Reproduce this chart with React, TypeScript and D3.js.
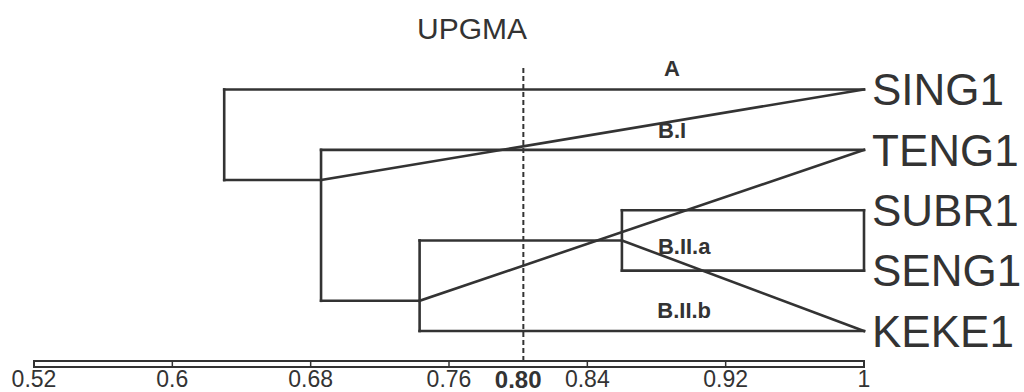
import React from "react";
import { scaleLinear, line } from "d3";

// leaves top to bottom
const leaves = ["SING1", "TENG1", "SUBR1", "SENG1", "KEKE1"];

// internal nodes (similarity, upper and lower branch in leaf-position units)
const nodeNames = ["root", "B", "B.II", "B.II.a"];
const nodeSim = [0.63, 0.686, 0.743, 0.86];
const nodeTop = [0, 1, 2.5, 2];
const nodeBottom = [1.5, 3.5, 4, 3];
const topChild = ["SING1", "TENG1", "B.II.a", "SUBR1"];
const bottomChild = ["B", "B.II", "KEKE1", "SENG1"];
const closedNodes = ["B.II.a"];

// odd diagonal links from a node's attach point to a leaf
const crossFrom = ["B", "B.II", "B.II.a"];
const crossTo = ["SING1", "TENG1", "KEKE1"];

const clusterNames = ["A", "B.I", "B.II.a", "B.II.b"];
const clusterSim = [0.889, 0.889, 0.896, 0.896];
const clusterPos = [-0.35, 0.67, 2.6, 3.65];

const tickValues = [0.52, 0.6, 0.68, 0.76, 0.84, 0.92, 1];
const tickLabels = ["0.52", "0.6", "0.68", "0.76", "0.84", "0.92", "1"];
const cutValue = 0.803;
const cutLabel = "0.80";

const ink = "#333";
const font = "'Liberation Sans', Arial, sans-serif";

export default function App() {
  const x = scaleLinear().domain([0.52, 1]).range([34, 864]);
  const y = scaleLinear().domain([0, 4]).range([89.5, 331]);
  const path = line();

  const simOf = (name) => {
    const i = nodeNames.indexOf(name);
    return i >= 0 ? nodeSim[i] : 1;
  };
  const posOfLeaf = (name) => leaves.indexOf(name);
  // where the parent branch meets a node
  const attachOf = (name) => {
    let i = topChild.indexOf(name);
    if (i >= 0) return nodeTop[i];
    i = bottomChild.indexOf(name);
    return nodeBottom[i];
  };

  const segs = [];
  nodeNames.forEach((n, i) => {
    const xs = x(nodeSim[i]);
    segs.push([[xs, y(nodeTop[i])], [xs, y(nodeBottom[i])]]);
    segs.push([[xs, y(nodeTop[i])], [x(simOf(topChild[i])), y(nodeTop[i])]]);
    segs.push([[xs, y(nodeBottom[i])], [x(simOf(bottomChild[i])), y(nodeBottom[i])]]);
    if (closedNodes.includes(n)) {
      segs.push([[x(1), y(nodeTop[i])], [x(1), y(nodeBottom[i])]]);
    }
  });
  crossFrom.forEach((n, i) => {
    segs.push([[x(simOf(n)), y(attachOf(n))], [x(1), y(posOfLeaf(crossTo[i]))]]);
  });

  const barTop = 361;
  const barBottom = 367;

  return (
    <svg
      width={1024}
      height={392}
      style={{ position: "absolute", left: 0, top: 0, background: "white" }}
    >
      <text
        x={472}
        y={39}
        textAnchor="middle"
        style={{ fontFamily: font, fontSize: 30, fill: ink }}
      >
        UPGMA
      </text>

      <line
        x1={x(cutValue)}
        x2={x(cutValue)}
        y1={68}
        y2={barTop}
        stroke={ink}
        strokeWidth={2}
        strokeDasharray="5 3"
      />

      {segs.map((s, i) => (
        <path
          key={i}
          d={path(s)}
          fill="none"
          stroke={ink}
          strokeWidth={2.6}
          strokeLinecap="square"
        />
      ))}

      {leaves.map((l, i) => (
        <text
          key={l}
          x={x(1) + 8}
          y={y(i)}
          dy="0.36em"
          style={{ fontFamily: font, fontSize: 44, fill: ink }}
        >
          {l}
        </text>
      ))}

      {clusterNames.map((c, i) => (
        <text
          key={c}
          x={x(clusterSim[i])}
          y={y(clusterPos[i])}
          dy="0.36em"
          textAnchor="middle"
          style={{ fontFamily: font, fontSize: 22, fontWeight: "bold", fill: ink }}
        >
          {c}
        </text>
      ))}

      <rect
        x={x(0.52)}
        y={barTop}
        width={x(1) - x(0.52)}
        height={barBottom - barTop}
        fill="white"
        stroke={ink}
        strokeWidth={2}
      />
      {tickValues.map((t, i) => (
        <g key={t}>
          <line
            x1={x(t)}
            x2={x(t)}
            y1={barTop}
            y2={barBottom}
            stroke={ink}
            strokeWidth={1.5}
          />
          <text
            x={x(t)}
            y={387}
            textAnchor="middle"
            style={{ fontFamily: font, fontSize: 23, fill: ink }}
          >
            {tickLabels[i]}
          </text>
        </g>
      ))}
      <text
        x={x(0.8)}
        y={388}
        textAnchor="middle"
        style={{ fontFamily: font, fontSize: 24, fontWeight: "bold", fill: ink }}
      >
        {cutLabel}
      </text>
    </svg>
  );
}
